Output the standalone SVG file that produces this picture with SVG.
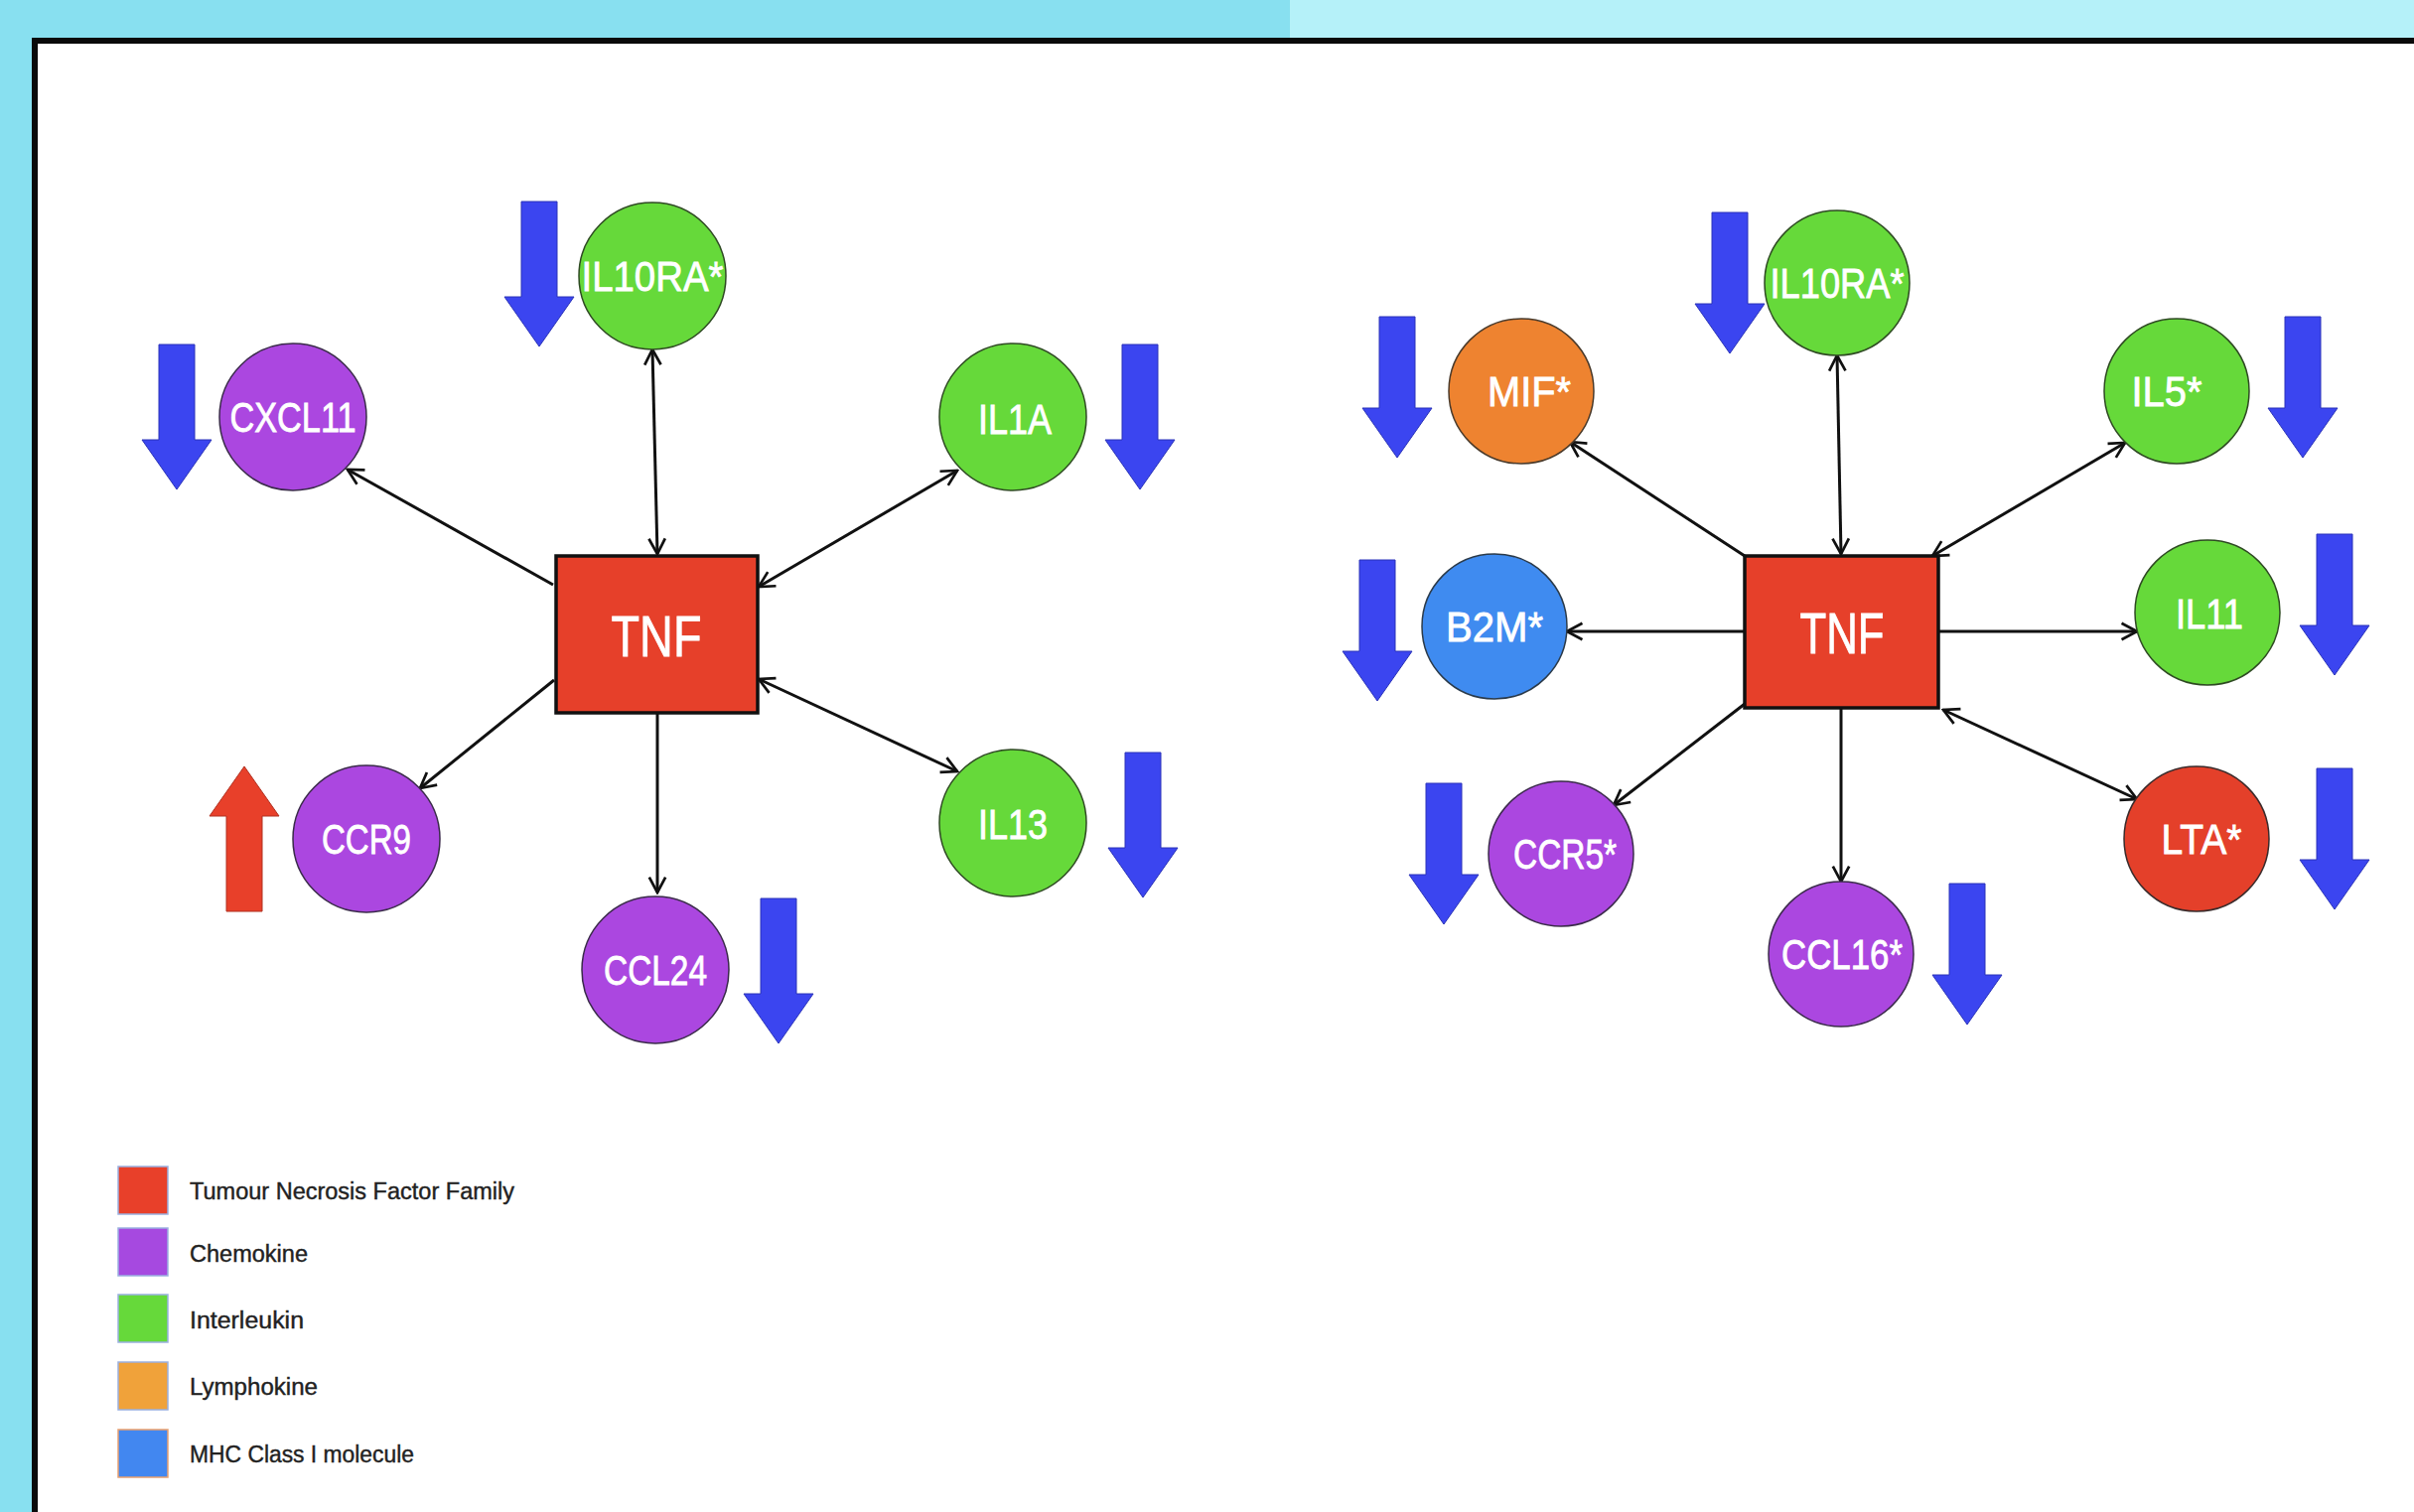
<svg xmlns="http://www.w3.org/2000/svg" width="2431" height="1523" viewBox="0 0 2431 1523">
<style>
.bg1{fill:#88E0F0}
.bg2{fill:#B5F1F9}
.panel{fill:#FFFFFF;stroke:#0A0A0A;stroke-width:6}
.green{fill:#66D93A;stroke:#2E4A22;stroke-width:1.5}
.purple{fill:#AB47E0;stroke:#3A2A4A;stroke-width:1.5}
.orange{fill:#EE8330;stroke:#4A3A2A;stroke-width:1.5}
.blue{fill:#3F8BF0;stroke:#2A3A4A;stroke-width:1.5}
.red{fill:#E4402A;stroke:#3A2A2A;stroke-width:1.5}
.tnf{fill:#E6402A;stroke:#111;stroke-width:3.5}
.lbl{font-family:"Liberation Sans",Arial,sans-serif;font-size:42px;fill:#FFFFFF;stroke:#FFFFFF;stroke-width:0.8;text-anchor:middle}
.tnft{font-family:"Liberation Sans",Arial,sans-serif;font-size:58px;fill:#FFFFFF;stroke:#FFFFFF;stroke-width:0.8;text-anchor:middle}
.down{fill:#3B45F0;stroke:#2A33B8;stroke-width:1}
.up{fill:#E8402A;stroke:#B03020;stroke-width:1}
.conn line{stroke:#111;stroke-width:3;fill:none}
.leg{font-family:"Liberation Sans",Arial,sans-serif;font-size:23px;fill:#222222;stroke:#222222;stroke-width:0.4}
.lsq{stroke:#9AB0E0;stroke-width:1.5}
</style>
<defs>
<marker id="ah" viewBox="0 0 22 22" refX="20" refY="11" markerWidth="20" markerHeight="20" markerUnits="userSpaceOnUse" orient="auto-start-reverse">
<path d="M3,2 L20,11 L3,20" fill="none" stroke="#111" stroke-width="3"/>
</marker>
<path id="dn" d="M17,0 H53 V96 H70 L35,146 L0,96 H17 Z"/>
<path id="dn2" d="M17,0 H53 V92 H70 L35,142 L0,92 H17 Z"/>
<path id="upa" d="M17,146 H53 V50 H70 L35,0 L0,50 H17 Z"/>
</defs>

<rect class="bg1" x="0" y="0" width="1299" height="41"/>
<rect class="bg2" x="1299" y="0" width="1132" height="41"/>
<rect class="bg1" x="0" y="0" width="35" height="1523"/>
<rect class="panel" x="35" y="41" width="2500" height="1600"/>

<g id="connectors" class="conn">
<line x1="557" y1="589" x2="350" y2="473" marker-end="url(#ah)"/>
<line x1="657" y1="352" x2="662" y2="558" marker-start="url(#ah)" marker-end="url(#ah)"/>
<line x1="964" y1="474" x2="764" y2="591" marker-start="url(#ah)" marker-end="url(#ah)"/>
<line x1="558" y1="685" x2="423" y2="794" marker-end="url(#ah)"/>
<line x1="662" y1="718" x2="662" y2="899" marker-end="url(#ah)"/>
<line x1="764" y1="684" x2="964" y2="777" marker-start="url(#ah)" marker-end="url(#ah)"/>
<line x1="1757" y1="560" x2="1581" y2="445" marker-end="url(#ah)"/>
<line x1="1850" y1="358" x2="1854" y2="558" marker-start="url(#ah)" marker-end="url(#ah)"/>
<line x1="2140" y1="446" x2="1946" y2="560" marker-start="url(#ah)" marker-end="url(#ah)"/>
<line x1="1757" y1="636" x2="1578" y2="636" marker-end="url(#ah)"/>
<line x1="1952" y1="636" x2="2152" y2="636" marker-end="url(#ah)"/>
<line x1="1757" y1="709" x2="1625" y2="811" marker-end="url(#ah)"/>
<line x1="1854" y1="713" x2="1854" y2="888" marker-end="url(#ah)"/>
<line x1="1957" y1="715" x2="2152" y2="805" marker-start="url(#ah)" marker-end="url(#ah)"/>
</g>

<!-- Left network -->
<g id="tnf-left"><rect class="tnf" x="560" y="560" width="203" height="158"/><text class="tnft" x="661" y="661" textLength="91" lengthAdjust="spacingAndGlyphs">TNF</text></g>
<g id="il10ra-left"><circle class="green" cx="657" cy="278" r="74"/><text class="lbl" x="657" y="293" textLength="143" lengthAdjust="spacingAndGlyphs">IL10RA*</text></g>
<g id="cxcl11"><circle class="purple" cx="295" cy="420" r="74"/><text class="lbl" x="295" y="435" textLength="127" lengthAdjust="spacingAndGlyphs">CXCL11</text></g>
<g id="il1a"><circle class="green" cx="1020" cy="420" r="74"/><text class="lbl" x="1022" y="437" textLength="74" lengthAdjust="spacingAndGlyphs">IL1A</text></g>
<g id="ccr9"><circle class="purple" cx="369" cy="845" r="74"/><text class="lbl" x="369" y="860" textLength="90" lengthAdjust="spacingAndGlyphs">CCR9</text></g>
<g id="il13"><circle class="green" cx="1020" cy="829" r="74"/><text class="lbl" x="1020" y="845" textLength="70" lengthAdjust="spacingAndGlyphs">IL13</text></g>
<g id="ccl24"><circle class="purple" cx="660" cy="977" r="74"/><text class="lbl" x="660" y="992" textLength="104" lengthAdjust="spacingAndGlyphs">CCL24</text></g>

<g id="arrows-left">
<use href="#dn" class="down" x="508" y="203"/>
<use href="#dn" class="down" x="143" y="347"/>
<use href="#dn" class="down" x="1113" y="347"/>
<use href="#dn" class="down" x="1116" y="758"/>
<use href="#dn" class="down" x="749" y="905"/>
<use href="#upa" class="up" x="211" y="772"/>
</g>

<!-- Right network -->
<g id="tnf-right"><rect class="tnf" x="1757" y="560" width="195" height="153"/><text class="tnft" x="1855" y="658" textLength="85" lengthAdjust="spacingAndGlyphs">TNF</text></g>
<g id="il10ra-right"><circle class="green" cx="1850" cy="285" r="73"/><text class="lbl" x="1850" y="300" textLength="135" lengthAdjust="spacingAndGlyphs">IL10RA*</text></g>
<g id="mif"><circle class="orange" cx="1532" cy="394" r="73"/><text class="lbl" x="1540" y="409" textLength="84" lengthAdjust="spacingAndGlyphs">MIF*</text></g>
<g id="il5"><circle class="green" cx="2192" cy="394" r="73"/><text class="lbl" x="2182" y="409" textLength="71" lengthAdjust="spacingAndGlyphs">IL5*</text></g>
<g id="b2m"><circle class="blue" cx="1505" cy="631" r="73"/><text class="lbl" x="1505" y="646" textLength="98" lengthAdjust="spacingAndGlyphs">B2M*</text></g>
<g id="il11"><circle class="green" cx="2223" cy="617" r="73"/><text class="lbl" x="2225" y="633" textLength="68" lengthAdjust="spacingAndGlyphs">IL11</text></g>
<g id="ccr5"><circle class="purple" cx="1572" cy="860" r="73"/><text class="lbl" x="1576" y="875" textLength="104" lengthAdjust="spacingAndGlyphs">CCR5*</text></g>
<g id="ccl16"><circle class="purple" cx="1854" cy="961" r="73"/><text class="lbl" x="1855" y="976" textLength="122" lengthAdjust="spacingAndGlyphs">CCL16*</text></g>
<g id="lta"><circle class="red" cx="2212" cy="845" r="73"/><text class="lbl" x="2217" y="860" textLength="81" lengthAdjust="spacingAndGlyphs">LTA*</text></g>

<g id="arrows-right">
<use href="#dn2" class="down" x="1707" y="214"/>
<use href="#dn2" class="down" x="1372" y="319"/>
<use href="#dn2" class="down" x="2284" y="319"/>
<use href="#dn2" class="down" x="1352" y="564"/>
<use href="#dn2" class="down" x="2316" y="538"/>
<use href="#dn2" class="down" x="1419" y="789"/>
<use href="#dn2" class="down" x="1946" y="890"/>
<use href="#dn2" class="down" x="2316" y="774"/>
</g>

<g id="legend">
<rect class="lsq" x="119" y="1175" width="50" height="48" fill="#E8402A"/>
<text class="leg" x="191" y="1208" textLength="327" lengthAdjust="spacingAndGlyphs">Tumour Necrosis Factor Family</text>
<rect class="lsq" x="119" y="1237" width="50" height="48" fill="#A649E0"/>
<text class="leg" x="191" y="1271" textLength="119" lengthAdjust="spacingAndGlyphs">Chemokine</text>
<rect class="lsq" x="119" y="1304" width="50" height="48" fill="#66D93A"/>
<text class="leg" x="191" y="1338" textLength="115" lengthAdjust="spacingAndGlyphs">Interleukin</text>
<rect class="lsq" x="119" y="1372" width="50" height="48" fill="#F0A23A"/>
<text class="leg" x="191" y="1405" textLength="129" lengthAdjust="spacingAndGlyphs">Lymphokine</text>
<rect x="119" y="1440" width="50" height="48" fill="#4287F0" stroke="#E8A070" stroke-width="1.5"/>
<text class="leg" x="191" y="1473" textLength="226" lengthAdjust="spacingAndGlyphs">MHC Class I molecule</text>
</g>
</svg>
